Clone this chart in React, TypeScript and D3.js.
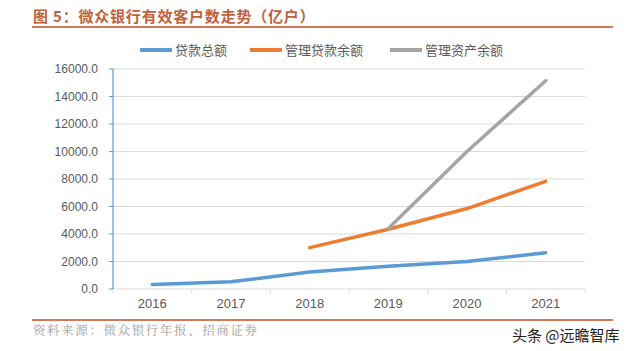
import React from "react";
import * as d3 from "d3";

const years = ["2016", "2017", "2018", "2019", "2020", "2021"];
const loanTotal: (number | null)[] = [330, 520, 1230, 1660, 2000, 2630];
const mgmtLoan: (number | null)[] = [null, null, 3010, 4350, 5850, 7830];
const mgmtAsset: (number | null)[] = [null, null, null, 4400, 10000, 15150];
const yTicks = [0, 2000, 4000, 6000, 8000, 10000, 12000, 14000, 16000];

const series = [
  { name: "贷款总额", values: loanTotal, color: "#5B9BD5" },
  { name: "管理贷款余额", values: mgmtLoan, color: "#ED7D31" },
  { name: "管理资产余额", values: mgmtAsset, color: "#A5A5A5" },
];

const W = 640, H = 351;
const left = 113, right = 585, top = 69, bottom = 289;

export default function App() {
  const x = d3.scaleBand<string>().domain(years).range([left, right]);
  const y = d3.scaleLinear().domain([0, 16000]).range([bottom, top]);
  const line = d3
    .line<number | null>()
    .defined((d) => d != null)
    .x((_, i) => (x(years[i]) as number) + x.bandwidth() / 2)
    .y((d) => y(d as number));
  const legendPos = [
    { lx: 140, tx: 175 },
    { lx: 250, tx: 285 },
    { lx: 390, tx: 425 },
  ];
  const font = "'Noto Sans CJK SC', 'Noto Sans', sans-serif";
  return (
    <svg width={W} height={H} style={{ position: "absolute", left: 0, top: 0, background: "#fff" }}>
      <text x={33} y={22} fontFamily={font} fontSize={15} fontWeight="bold" fill="#C0603A" letterSpacing={0.8}>
        图 5：微众银行有效客户数走势（亿户）
      </text>
      <line x1={32} x2={613} y1={27} y2={27} stroke="#D07A5A" strokeWidth={2} />
      {legendPos.map((p, i) => (
        <g key={i}>
          <line x1={p.lx} x2={p.lx + 32} y1={50} y2={50} stroke={series[i].color} strokeWidth={4} />
          <text x={p.tx} y={55} fontFamily={font} fontSize={13} fill="#595959">
            {series[i].name}
          </text>
        </g>
      ))}
      {yTicks.map((t) => (
        <g key={t}>
          {t > 0 && <line x1={left} x2={right} y1={y(t)} y2={y(t)} stroke="#D9D9D9" strokeWidth={1} />}
          <line x1={left - 4} x2={left} y1={y(t)} y2={y(t)} stroke="#5B9BD5" strokeWidth={1} />
          <text x={98} y={y(t) + 4} textAnchor="end" fontFamily="'Liberation Sans', Arial, sans-serif" fontSize={12} fill="#595959">
            {t.toFixed(1)}
          </text>
        </g>
      ))}
      <line x1={left} x2={right} y1={bottom} y2={bottom} stroke="#D9D9D9" strokeWidth={1} />
      {years.map((yr, i) => (
        <line key={"t" + i} x1={x(yr) as number} x2={x(yr) as number} y1={bottom} y2={bottom + 4} stroke="#D9D9D9" />
      ))}
      <line x1={right} x2={right} y1={bottom} y2={bottom + 4} stroke="#D9D9D9" />
      <line x1={left} x2={left} y1={top} y2={bottom} stroke="#5B9BD5" strokeWidth={1.2} />
      {years.map((yr) => (
        <text key={yr} x={(x(yr) as number) + x.bandwidth() / 2} y={308} textAnchor="middle" fontFamily="'Liberation Sans', Arial, sans-serif" fontSize={13} fill="#595959">
          {yr}
        </text>
      ))}
      {series.map((s) => (
        <path key={s.name} d={line(s.values) || ""} fill="none" stroke={s.color} strokeWidth={3.5} strokeLinecap="round" strokeLinejoin="round" />
      ))}
      <line x1={32} x2={613} y1={320} y2={320} stroke="#D07A5A" strokeWidth={2} />
      <text x={33} y={335} fontFamily="'Noto Serif CJK SC', 'Noto Sans CJK SC', serif" fontSize={12.5} fill="#A0A0A0" letterSpacing={1.6}>
        资料来源：微众银行年报、招商证券
      </text>
      <text x={512} y={341} fontFamily={font} fontSize={15} fill="#222">
        头条 @远瞻智库
      </text>
    </svg>
  );
}
